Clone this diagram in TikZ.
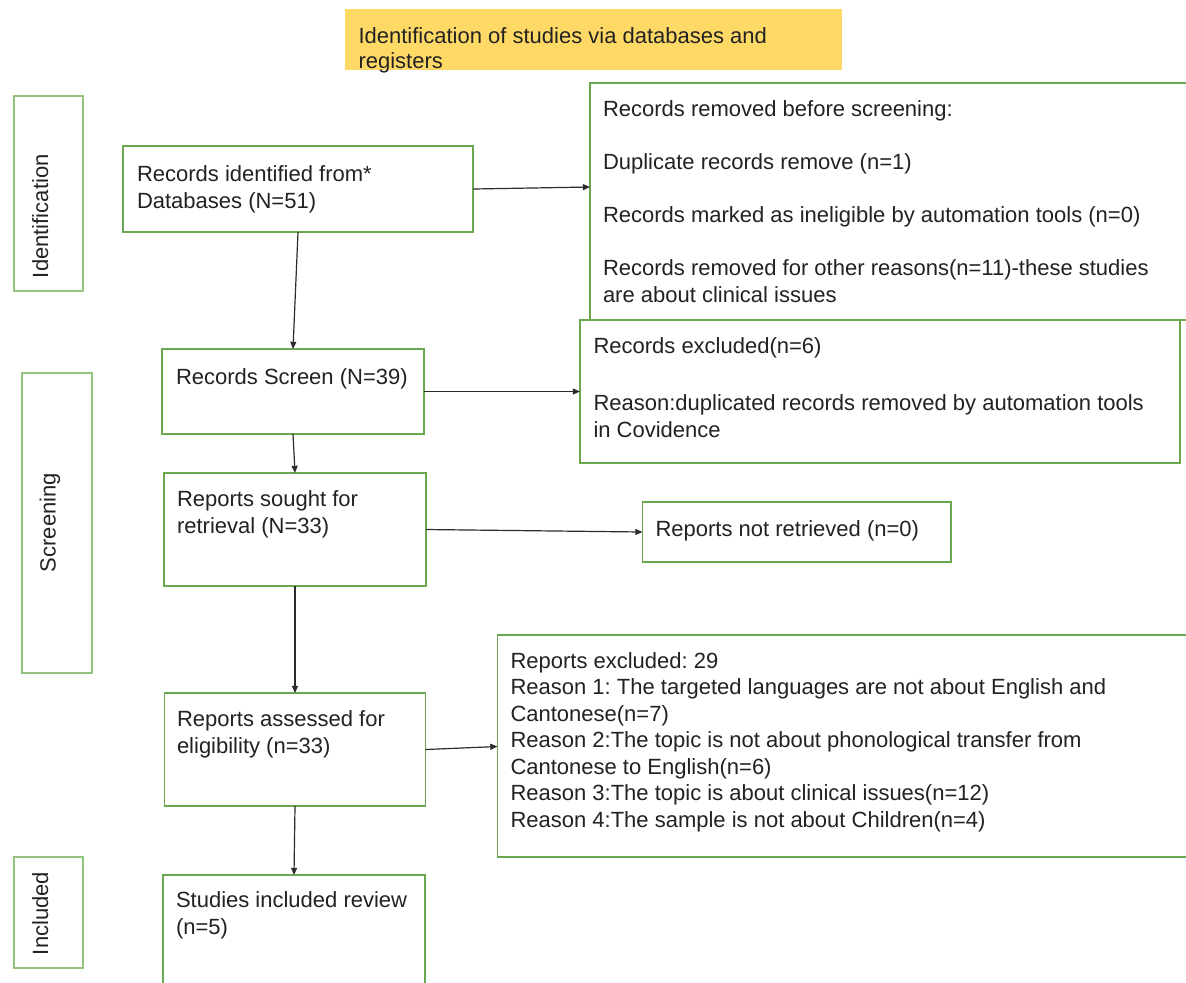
\documentclass[tikz,border=0pt]{standalone}
\usepackage{fontspec}
\setmainfont{Liberation Sans}
\frenchspacing
\usetikzlibrary{arrows.meta,fit}
\definecolor{boxgreen}{HTML}{6AA84F}
\definecolor{sidegreen}{HTML}{93C47D}
\definecolor{hdryellow}{HTML}{FFD966}
\definecolor{txtgray}{HTML}{222222}
\definecolor{arrgray}{HTML}{2B2B2B}
\tikzset{
  box/.style={draw=boxgreen, line width=0.75pt, inner sep=0pt, outer sep=0pt},
  sidebox/.style={draw=sidegreen, line width=0.8pt, inner sep=0pt, outer sep=0pt},
  hdr/.style={fill=hdryellow, draw=none, inner sep=0pt, outer sep=0pt},
  txt/.style={inner sep=0pt, outer sep=0pt, align=left, text=txtgray, font=\fontsize{11}{13.25}\selectfont},
  arr/.style={draw=arrgray, line width=0.6pt, -{Triangle[length=3.6pt,width=3pt]}}
}
\begin{document}
\begin{tikzpicture}[x=0.5pt,y=-0.5pt]
\clip (0,0) rectangle (1186,982);
\useasboundingbox (0,0) rectangle (1186,982);
\fill[white] (0,0) rectangle (1186,982);

% header
\node[hdr, fit={(345,9) (842,70)}] (hdr) {};
\node[txt, anchor=base west, font=\fontsize{11}{12.5}\selectfont] (hdrt) at (358.5,68) {Identification of studies via databases and\\registers};

% side labels
\node[sidebox, fit={(14,96) (83,291)}] (sideI) {};
\node[txt, rotate=90, anchor=base west] (sideIt) at (48,278) {Identification};
\node[sidebox, fit={(22,373) (92,673)}] (sideS) {};
\node[txt, rotate=90, anchor=base west] (sideSt) at (55.5,572) {Screening};
\node[sidebox, fit={(14,857) (83,968)}] (sideN) {};
\node[txt, rotate=90, anchor=base west] (sideNt) at (48,955) {Included};

% main column
\node[box, fit={(123,146) (473,232)}] (A) {};
\node[txt, anchor=base west] (At) at (137,208) {Records identified from*\\Databases (N=51)};
\node[box, fit={(162,349) (424,434)}] (D) {};
\node[txt, anchor=base west] (Dt) at (176,384) {Records Screen (N=39)};
\node[box, fit={(164,473) (426,586)}] (E) {};
\node[txt, anchor=base west] (Et) at (177,533) {Reports sought for\\retrieval (N=33)};
\node[box, fit={(164.5,693) (425.5,806)}] (G) {};
\node[txt, anchor=base west] (Gt) at (177,753) {Reports assessed for\\eligibility (n=33)};
\node[box, fit={(163,875) (425,1000)}] (I) {};
\node[txt, anchor=base west] (It) at (176,934) {Studies included review\\(n=5)};

% right column
\node[box, fit={(590,83) (1200,320)}] (B) {};
\node[txt, anchor=base west] (Bt) at (603,302) {Records removed before screening:\\[13.25pt]
Duplicate records remove (n=1)\\[13.25pt]
Records marked as ineligible by automation tools (n=0)\\[13.25pt]
Records removed for other reasons(n=11)-these studies\\
are about clinical issues};
\node[box, fit={(580,320) (1180,463)}] (C) {};
\node[txt, anchor=base west] (Ct) at (593.5,437) {Records excluded(n=6)\\[15.25pt]
Reason:duplicated records removed by automation tools\\
in Covidence};
\node[box, fit={(642.5,502) (951,562)}] (F) {};
\node[txt, anchor=base west] (Ft) at (655.5,536) {Reports not retrieved (n=0)};
\node[box, fit={(497.5,635) (1200,857)}] (H) {};
\node[txt, anchor=base west] (Ht) at (510.5,827) {Reports excluded: 29\\
Reason 1: The targeted languages are not about English and\\
Cantonese(n=7)\\
Reason 2:The topic is not about phonological transfer from\\
Cantonese to English(n=6)\\
Reason 3:The topic is about clinical issues(n=12)\\
Reason 4:The sample is not about Children(n=4)};

% connectors
\draw[arr] (A.south) -- (D.north);
\draw[arr] (D.south) -- (E.north);
\draw[arr] (E.south) -- (G.north);
\draw[arr] (G.south) -- (I.north);
\draw[arr] (A.east) -- ([yshift=1pt]B.west |- A.east);
\draw[arr] (D.east) -- (C.west |- D.east);
\draw[arr] (E.east) -- (F.west);
\draw[arr] (G.east) -- ([yshift=1.5pt]H.west |- G.east);
\end{tikzpicture}
\end{document}
